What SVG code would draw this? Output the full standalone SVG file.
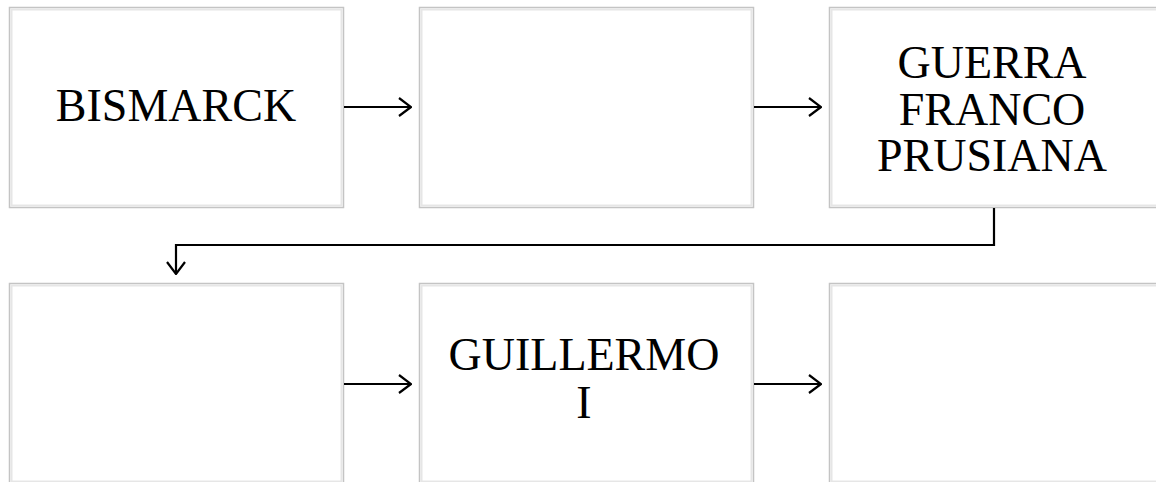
<svg xmlns="http://www.w3.org/2000/svg" width="1156" height="482" viewBox="0 0 1156 482">
<style>
.box{fill:#ffffff;stroke:#c4c4c4;stroke-width:1.5}
.inner{fill:none;stroke:#e6e6e6;stroke-width:2}
.t{font-family:"Liberation Serif","Times New Roman",serif;font-size:46px;fill:#000;text-anchor:middle}
.c{fill:none;stroke:#000;stroke-width:2.2}
</style>
<defs>
<marker id="ah" viewBox="0 0 14 20" markerWidth="14" markerHeight="20" refX="13" refY="10" orient="auto" markerUnits="userSpaceOnUse">
<path d="M1,1 L13,10 L1,19" fill="none" stroke="#000" stroke-width="2.2"/>
</marker>
</defs>
<rect width="1156" height="482" fill="#ffffff"/>
<g id="n1"><rect class="box" x="9.5" y="7.5" width="334" height="200"/><rect class="inner" x="11.5" y="9.5" width="330" height="196"/><text class="t" x="176" y="121">BISMARCK</text></g>
<g id="n2"><rect class="box" x="419.5" y="7.5" width="334" height="200"/><rect class="inner" x="421.5" y="9.5" width="330" height="196"/></g>
<g id="n3"><rect class="box" x="829.5" y="7.5" width="334" height="200"/><rect class="inner" x="831.5" y="9.5" width="330" height="196"/><text class="t" x="992" y="78">GUERRA</text><text class="t" x="992" y="124.5">FRANCO</text><text class="t" x="992" y="171">PRUSIANA</text></g>
<g id="n4"><rect class="box" x="9.5" y="283.5" width="334" height="200"/><rect class="inner" x="11.5" y="285.5" width="330" height="196"/></g>
<g id="n5"><rect class="box" x="419.5" y="283.5" width="334" height="200"/><rect class="inner" x="421.5" y="285.5" width="330" height="196"/><text class="t" x="584" y="370">GUILLERMO</text><text class="t" x="584" y="418">I</text></g>
<g id="n6"><rect class="box" x="829.5" y="283.5" width="334" height="200"/><rect class="inner" x="831.5" y="285.5" width="330" height="196"/></g>
<g id="connectors">
<line class="c" x1="344" y1="107" x2="411" y2="107" marker-end="url(#ah)"/>
<line class="c" x1="754" y1="107" x2="821" y2="107" marker-end="url(#ah)"/>
<path class="c" d="M994,208 V245 H176 V274" marker-end="url(#ah)"/>
<line class="c" x1="344" y1="384" x2="411" y2="384" marker-end="url(#ah)"/>
<line class="c" x1="754" y1="384" x2="821" y2="384" marker-end="url(#ah)"/>
</g>
</svg>
